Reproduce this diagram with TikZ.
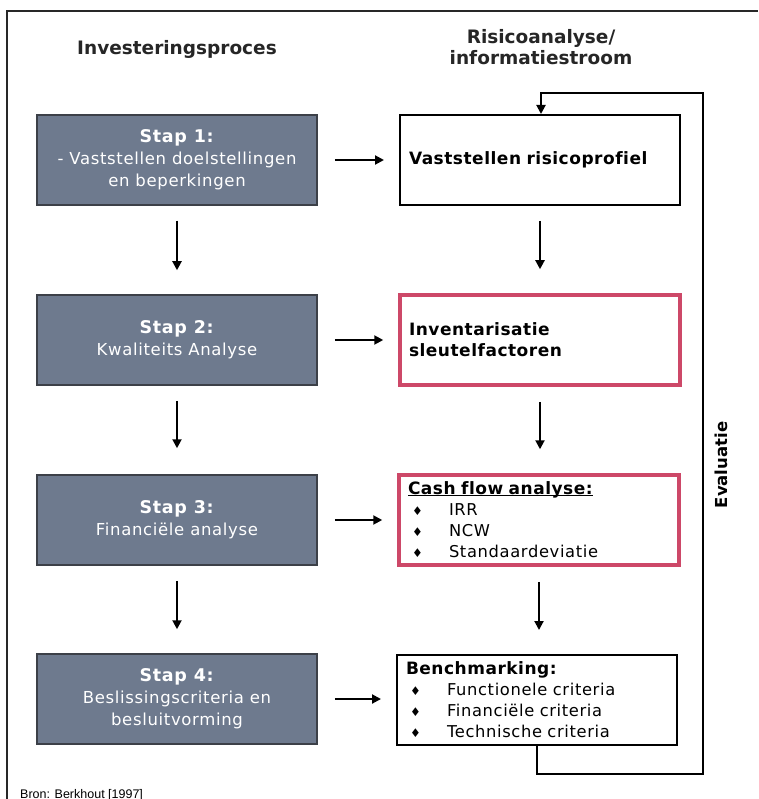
\documentclass[tikz,border=0pt]{standalone}
\usepackage{fontspec}
\setmainfont[Ligatures=NoCommon]{DejaVu Sans}
\newfontfamily\sourcefont{Liberation Sans}
\usetikzlibrary{arrows.meta}

\definecolor{stapgrey}{RGB}{110,122,142}
\definecolor{stapedge}{RGB}{60,64,72}
\definecolor{keyred}{RGB}{205,72,104}
\definecolor{framegrey}{RGB}{40,40,40}

\newcommand{\itemdiamond}{\hspace*{4pt}\makebox[37pt][l]{\raisebox{0.5pt}{\fontsize{12}{12}\selectfont ♦}}}
\newcommand{\boxtitle}[1]{{\fontsize{17}{21}\selectfont\addfontfeature{LetterSpace=3}\textbf{#1}}}
\newsavebox{\ulbox}
\newcommand{\tightul}[1]{\sbox{\ulbox}{#1}\rlap{\rule[-1.6pt]{\wd\ulbox}{1.3pt}}\usebox{\ulbox}}

\begin{document}
\begin{tikzpicture}[x=1pt,y=-1pt,
  lbox/.style={font=\fontsize{16.5}{22}\selectfont\addfontfeature{LetterSpace=4},
    fill=stapgrey, draw=stapedge, line width=1.5pt,
    minimum width=280, minimum height=90, text=white, align=center},
  rbox/.style={draw=black, line width=2pt, minimum height=90,
    text width=262, inner xsep=9, align=left,
    font=\fontsize{16.3}{21}\selectfont\addfontfeature{LetterSpace=4}},
  redbox/.style={rbox, draw=keyred, line width=3.5pt},
  flow/.style={line width=2pt, -{Triangle[length=9pt,width=9pt]}},
  header/.style={font=\fontsize{18.5}{21}\selectfont\bfseries, align=center, text=black!85}
]
\useasboundingbox (0,0) rectangle (758,799);

% outer frame (top and left edges)
\draw[framegrey, line width=2pt] (7,799) -- (7,11) -- (758,11);

% column headers
\node[header] (hproc) at (177,49) {Investeringsproces};
\node[header] (hrisk) at (541,47) {Risicoanalyse/\\informatiestroom};

% investment process steps
\node[lbox] (s1) at (177,160) {{\fontsize{17.5}{22}\selectfont\textbf{Stap 1:}}\\- Vaststellen doelstellingen\\en beperkingen};
\node[lbox] (s2) at (177,340) {{\fontsize{17.5}{22}\selectfont\textbf{Stap 2:}}\\Kwaliteits Analyse};
\node[lbox] (s3) at (177,520) {{\fontsize{17.5}{22}\selectfont\textbf{Stap 3:}}\\Financiële analyse};
\node[lbox] (s4) at (177,699) {{\fontsize{17.5}{22}\selectfont\textbf{Stap 4:}}\\Beslissingscriteria en\\besluitvorming};

% risk analysis / information flow
\node[rbox] (r1) at (540,160) {\boxtitle{Vaststellen risicoprofiel}};
\node[redbox] (r2) at (540,340) {\boxtitle{Inventarisatie}\\\boxtitle{sleutelfactoren}};
\node[redbox] (r3) at (539,520) {\boxtitle{\tightul{Cash flow analyse:}}\\
  \itemdiamond IRR\\
  \itemdiamond NCW\\
  \itemdiamond Standaardeviatie};
\node[rbox] (r4) at (537,700) {\boxtitle{Benchmarking:}\\
  \itemdiamond Functionele criteria\\
  \itemdiamond Financiële criteria\\
  \itemdiamond Technische criteria};

% horizontal links
\foreach \a/\b in {s1/r1, s2/r2, s3/r3, s4/r4}
  \draw[flow, shorten <=17pt, shorten >=15pt] (\a.east) -- (\a.east -| \b.west);

% vertical links
\draw[flow, shorten <=15pt, shorten >=24pt] (s1.south) -- (s2.north);
\draw[flow, shorten <=15pt, shorten >=26pt] (s2.south) -- (s3.north);
\draw[flow, shorten <=15pt, shorten >=24pt] (s3.south) -- (s4.north);
\draw[flow, shorten <=15pt, shorten >=24pt] (r1.south) -- (r1.south |- r2.north);
\draw[flow, shorten <=15pt, shorten >=24pt] (r2.south) -- (r2.south |- r3.north);
\draw[flow, shorten <=15pt, shorten >=24pt] (r3.south) -- (r3.south |- r4.north);

% evaluation feedback loop
\coordinate (lb) at (537,774);
\coordinate (rb) at (703,774);
\coordinate (rt) at (703,93);
\coordinate (lt) at (541,93);
\draw[flow] (r4.south) -- (lb) -- (rb) -- (rt) -- (lt) -- (lt |- r1.north);
\node[font=\fontsize{16.5}{18}\selectfont\bfseries, rotate=90] (evaluatie) at (721,465) {Evaluatie};

% source
\node[font=\sourcefont\fontsize{12.5}{14}\selectfont, anchor=base west, inner sep=0] (bron) at (20,798) {Bron: Berkhout [1997]};
\end{tikzpicture}
\end{document}
